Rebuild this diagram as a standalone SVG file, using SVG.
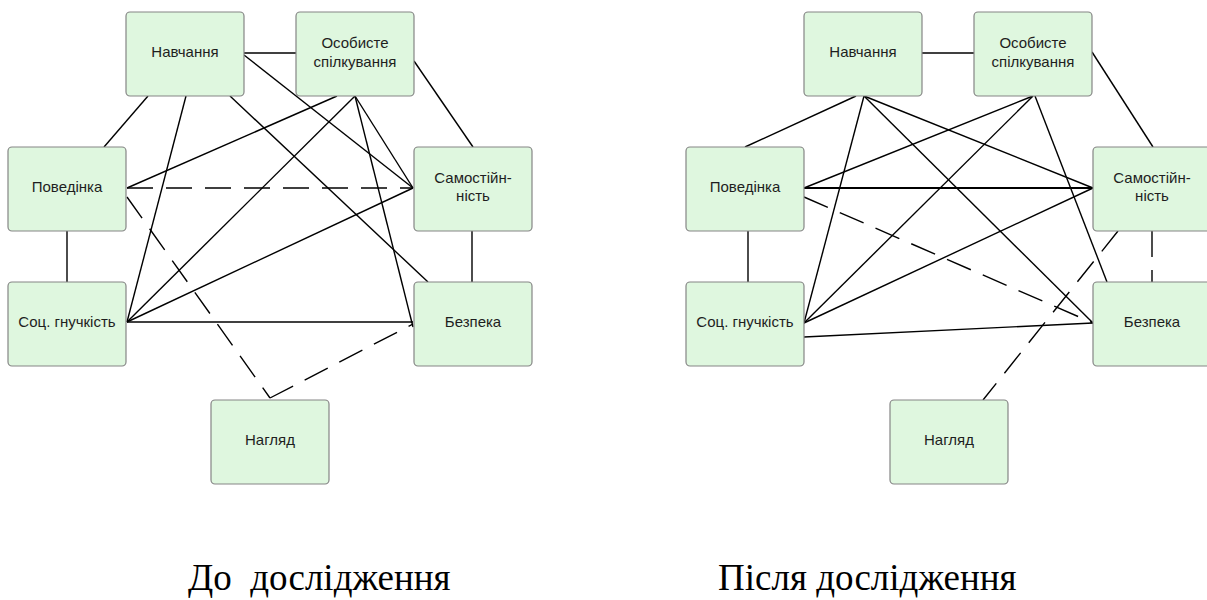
<svg xmlns="http://www.w3.org/2000/svg" width="1207" height="600" viewBox="0 0 1207 600">
<style>
.box{fill:#dff7df;stroke:#858585;stroke-width:1.2}
.lbl{font-family:"Liberation Sans",Arial,sans-serif;font-size:15px;fill:#1e1e1e;text-anchor:middle}
.ln{stroke:#000;stroke-width:1.4;fill:none}
.ds{stroke:#000;stroke-width:1.4;fill:none;stroke-dasharray:26 13}
.cap{font-family:"Liberation Serif","Times New Roman",serif;font-size:37px;fill:#000;white-space:pre}
</style>
<rect width="1207" height="600" fill="#fff"/>
<g id="connectors">
  <!-- left diagram -->
  <line class="ln" x1="244" y1="53" x2="296" y2="53"/>
  <line class="ln" x1="148" y1="96" x2="104" y2="147"/>
  <line class="ln" x1="186" y1="96" x2="127" y2="322"/>
  <line class="ln" x1="244" y1="55" x2="413" y2="188"/>
  <line class="ln" x1="230" y1="96" x2="428" y2="282"/>
  <line class="ln" x1="337" y1="96" x2="127" y2="188"/>
  <line class="ln" x1="355" y1="96" x2="127" y2="322"/>
  <line class="ln" x1="355" y1="96" x2="413" y2="188"/>
  <line class="ln" x1="355" y1="96" x2="413" y2="327"/>
  <line class="ln" x1="414" y1="61" x2="473" y2="147"/>
  <line class="ds" x1="127" y1="188" x2="413" y2="188"/>
  <line class="ln" x1="67" y1="231" x2="67" y2="282"/>
  <line class="ds" x1="127" y1="197" x2="270" y2="398"/>
  <line class="ln" x1="413" y1="188" x2="127" y2="322"/>
  <line class="ln" x1="472" y1="231" x2="472" y2="282"/>
  <line class="ln" x1="127" y1="322" x2="413" y2="322"/>
  <line class="ds" x1="270" y1="398" x2="413" y2="324"/>
  <!-- right diagram -->
  <line class="ln" x1="922" y1="53" x2="974" y2="53"/>
  <line class="ln" x1="856" y1="96" x2="745" y2="147"/>
  <line class="ln" x1="864" y1="96" x2="804" y2="323"/>
  <line class="ln" x1="864" y1="96" x2="1093" y2="188"/>
  <line class="ln" x1="864" y1="96" x2="1093" y2="323"/>
  <line class="ln" x1="1033" y1="96" x2="804" y2="188"/>
  <line class="ln" x1="1033" y1="96" x2="804" y2="323"/>
  <line class="ln" x1="1035" y1="96" x2="1107" y2="282"/>
  <line class="ln" x1="1092" y1="52" x2="1153" y2="147"/>
  <line class="ln" x1="804" y1="188" x2="1093" y2="188" style="stroke-width:2"/>
  <line class="ds" x1="804" y1="197" x2="1093" y2="323"/>
  <line class="ln" x1="748" y1="231" x2="748" y2="282"/>
  <line class="ln" x1="1093" y1="188" x2="804" y2="323"/>
  <line class="ds" x1="1118" y1="231" x2="983" y2="400"/>
  <line class="ds" x1="1152" y1="231" x2="1152" y2="282"/>
  <line class="ln" x1="804" y1="337" x2="1093" y2="323"/>
</g>
<!-- left nodes -->
<g id="L-navchannia"><rect class="box" x="126" y="12" width="118" height="84" rx="4"/><text class="lbl" x="185" y="57">Навчання</text></g>
<g id="L-osobyste"><rect class="box" x="296" y="12" width="118" height="84" rx="4"/><text class="lbl" x="355" y="48">Особисте</text><text class="lbl" x="355" y="67">спілкування</text></g>
<g id="L-povedinka"><rect class="box" x="8" y="147" width="118" height="84" rx="4"/><text class="lbl" x="67" y="192">Поведінка</text></g>
<g id="L-samostiinist"><rect class="box" x="414" y="147" width="118" height="84" rx="4"/><text class="lbl" x="473" y="183">Самостійн-</text><text class="lbl" x="473" y="201">ність</text></g>
<g id="L-sots"><rect class="box" x="8" y="282" width="118" height="84" rx="4"/><text class="lbl" x="67" y="327">Соц. гнучкість</text></g>
<g id="L-bezpeka"><rect class="box" x="414" y="282" width="118" height="84" rx="4"/><text class="lbl" x="473" y="327">Безпека</text></g>
<g id="L-nahliad"><rect class="box" x="211" y="400" width="118" height="84" rx="4"/><text class="lbl" x="270" y="445">Нагляд</text></g>
<!-- right nodes -->
<g id="R-navchannia"><rect class="box" x="804" y="12" width="118" height="84" rx="4"/><text class="lbl" x="863" y="57">Навчання</text></g>
<g id="R-osobyste"><rect class="box" x="974" y="12" width="118" height="84" rx="4"/><text class="lbl" x="1033" y="48">Особисте</text><text class="lbl" x="1033" y="67">спілкування</text></g>
<g id="R-povedinka"><rect class="box" x="686" y="147" width="118" height="84" rx="4"/><text class="lbl" x="745" y="192">Поведінка</text></g>
<g id="R-samostiinist"><rect class="box" x="1093" y="147" width="118" height="84" rx="4"/><text class="lbl" x="1152" y="183">Самостійн-</text><text class="lbl" x="1152" y="201">ність</text></g>
<g id="R-sots"><rect class="box" x="686" y="282" width="118" height="84" rx="4"/><text class="lbl" x="745" y="327">Соц. гнучкість</text></g>
<g id="R-bezpeka"><rect class="box" x="1093" y="282" width="118" height="84" rx="4"/><text class="lbl" x="1152" y="327">Безпека</text></g>
<g id="R-nahliad"><rect class="box" x="890" y="400" width="118" height="84" rx="4"/><text class="lbl" x="949" y="445">Нагляд</text></g>
<!-- captions -->
<text class="cap" x="188" y="590" xml:space="preserve">До  дослідження</text>
<text class="cap" x="718" y="590">Після дослідження</text>
</svg>
